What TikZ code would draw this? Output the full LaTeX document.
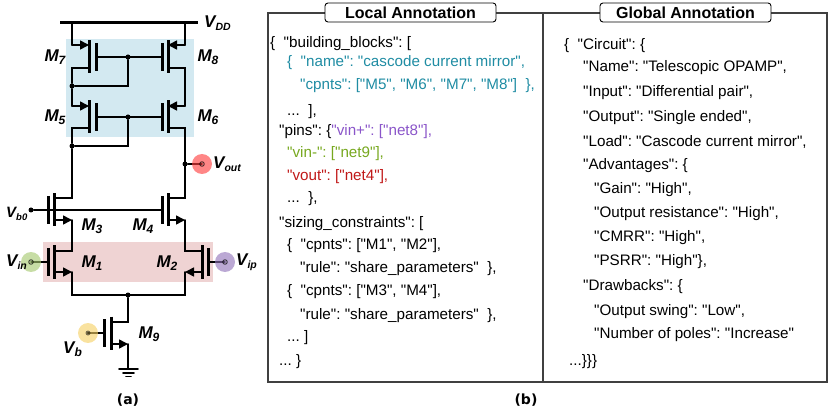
\documentclass[tikz,border=0pt]{standalone}
\usepackage{fontspec}
\setmainfont{Liberation Sans}
\newfontfamily\dejavu{DejaVu Sans}
\font\codefont="Liberation Sans" at 15.2pt
\usetikzlibrary{arrows.meta}
\definecolor{tealtxt}{HTML}{1F8CA3}
\definecolor{purptxt}{HTML}{8A55C9}
\definecolor{greentxt}{HTML}{77A81F}
\definecolor{redtxt}{HTML}{C01818}
\definecolor{framegray}{HTML}{404040}
\tikzset{
  wire/.style={line width=1.6pt,black,line cap=round,line join=miter},
  tipwire/.style={wire,-{Triangle[length=9pt,width=9pt]}},
  mosbar/.style={line width=3pt,black},
  junction/.style={circle,fill=black,inner sep=0pt,minimum size=5pt},
  pinring/.style={circle,draw=black,line width=.9pt,fill=none,inner sep=0pt,minimum size=4.5pt,opacity=.7},
  pindot/.style={circle,fill=black,inner sep=0pt,minimum size=5pt,opacity=.5},
  halo/.style={circle,inner sep=0pt,minimum size=20pt,opacity=.62},
  devlabel/.style={font=\fontsize{17}{18}\selectfont\bfseries\itshape,inner sep=0pt},
  capt/.style={font=\dejavu\fontsize{14}{16}\selectfont\bfseries,inner sep=0pt},
  code/.style={anchor=west,inner sep=0pt,font=\codefont\frenchspacing},
  titlebox/.style={draw=black,line width=.9pt,rounded corners=3pt,fill=white,inner sep=0pt,minimum height=19pt,font=\fontsize{16}{17}\selectfont\bfseries},
  frame/.style={draw=framegray,line width=1.1pt}
}
% name, gate x, channel x, rail x, upper terminal y, lower terminal y, gate y
\newcommand\mosdev[7]{%
  \coordinate (#1-g) at (#2,#7);
  \coordinate (#1-ct) at (#3,#5);
  \coordinate (#1-cb) at (#3,#6);
  \coordinate (#1-rt) at (#4,#5);
  \coordinate (#1-rb) at (#4,#6);
  \draw[mosbar] (#2,#7-14) -- (#2,#7+14);
  \draw[mosbar] (#3,#7-16.5) -- (#3,#7+16.5);
}
\newcommand\subl[2]{#1\raisebox{-3pt}{\fontsize{12}{13}\selectfont #2}}
\newcommand\subv[2]{#1\raisebox{-3pt}{\fontsize{10.5}{12}\selectfont #2}}
\begin{document}
\begin{tikzpicture}[x=1pt,y=-1pt]
\useasboundingbox (0,0) rectangle (830,414);
% highlighted regions
\fill[fill={rgb,255:red,211;green,233;blue,241}] (66,39) rectangle (194,137);
\fill[fill={rgb,255:red,239;green,211;blue,211}] (43,242) rectangle (213,282);
% devices
\mosdev{M7}{96}{89}{72}{45}{68}{57}
\mosdev{M8}{162}{168}{185}{45}{68}{57}
\mosdev{M5}{96}{89}{72}{106}{128}{117}
\mosdev{M6}{162}{168}{185}{106}{128}{117}
\mosdev{M3}{48}{54}{72}{198}{220}{210}
\mosdev{M4}{162}{168}{185}{198}{220}{210}
\mosdev{M1}{48}{54}{72}{251}{272}{262}
\mosdev{M2}{208}{202}{185}{251}{272}{262}
\mosdev{M9}{104}{111}{128}{322}{344}{333}
% junctions and free ends
\node[junction] (jleft) at (72,86) {};
\node[junction] (jgtop) at (128,57) {};
\node[junction] (jleftb) at (72,146) {};
\node[junction] (jgbot) at (128,117) {};
\node[junction] (jout) at (185,164) {};
\node[junction] (jtail) at (128,295) {};
\node[junction] (vbz) at (31,210) {};
\coordinate (vddl) at (60,23);
\coordinate (vddr) at (198,23);
\coordinate (vdd7) at (72,23);
\coordinate (vdd8) at (185,23);
\coordinate (tl) at (72,295);
\coordinate (tr) at (185,295);
\coordinate (cj1) at (128,86);
\coordinate (cj2) at (128,146);
\coordinate (gnd) at (128,369);
% pins
\coordinate (pout) at (202,164);
\coordinate (pin) at (31,262);
\coordinate (pip) at (225,262);
\coordinate (pb) at (88,333);
% wiring
\draw[line width=3pt] (vddl) -- (vddr);
\draw[wire] (vdd7) -- (M7-rt);
\draw[wire] (vdd8) -- (M8-rt);
\draw[tipwire] (M7-rt) -- (M7-ct);
\draw[tipwire] (M8-rt) -- (M8-ct);
\draw[wire] (M7-g) -- (M8-g);
\draw[wire] (M7-cb) -- (M7-rb) -- (jleft);
\draw[wire] (M8-cb) -- (M8-rb) -- (M6-rt);
\draw[wire] (jleft) -- (cj1) -- (jgtop);
\draw[wire] (jleft) -- (M5-rt);
\draw[tipwire] (M5-rt) -- (M5-ct);
\draw[tipwire] (M6-rt) -- (M6-ct);
\draw[wire] (M5-g) -- (M6-g);
\draw[wire] (M5-cb) -- (M5-rb) -- (jleftb);
\draw[wire] (jleftb) -- (cj2) -- (jgbot);
\draw[wire] (jleftb) -- (M3-rt) -- (M3-ct);
\draw[wire] (M6-cb) -- (M6-rb) -- (M4-rt) -- (M4-ct);
\draw[wire] (jout) -- (pout);
\draw[wire] (vbz) -- (M4-g);
\draw[tipwire] (M3-cb) -- (M3-rb);
\draw[tipwire] (M4-cb) -- (M4-rb);
\draw[wire] (M3-rb) -- (M1-rt) -- (M1-ct);
\draw[wire] (M4-rb) -- (M2-rt) -- (M2-ct);
\draw[tipwire] (M1-cb) -- (M1-rb);
\draw[tipwire] (M2-cb) -- (M2-rb);
\draw[wire] (M1-rb) -- (tl) -- (tr) -- (M2-rb);
\draw[wire] (pin) -- (M1-g);
\draw[wire] (M2-g) -- (pip);
\draw[wire] (jtail) -- (M9-rt) -- (M9-ct);
\draw[tipwire] (M9-cb) -- (M9-rb);
\draw[wire] (M9-rb) -- (gnd);
\draw[wire] (pb) -- (M9-g);
\draw[wire] (119,369) -- (138,369);
\draw[wire] (123,373) -- (134,373);
\draw[wire] (126,376.5) -- (131,376.5);
% halos
\node[halo,fill={rgb,255:red,255;green,60;blue,60}] (hout) at (pout) {};
\node[halo,fill={rgb,255:red,165;green,200;blue,110}] (hin) at (pin) {};
\node[halo,fill={rgb,255:red,145;green,115;blue,185}] (hip) at (pip) {};
\node[halo,fill={rgb,255:red,246;green,209;blue,100}] (hb) at (pb) {};
\node[pinring] (rout) at (pout) {};
\node[pinring] (rin) at (pin) {};
\node[pinring] (rip) at (pip) {};
\node[pindot] (rb) at (pb) {};
% device labels
\node[devlabel] (l7) at (55,57) {\subl{M}{7}};
\node[devlabel] (l8) at (208,57) {\subl{M}{8}};
\node[devlabel] (l5) at (55,117) {\subl{M}{5}};
\node[devlabel] (l6) at (208,117) {\subl{M}{6}};
\node[devlabel] (l3) at (92,226) {\subl{M}{3}};
\node[devlabel] (l4) at (143,226) {\subl{M}{4}};
\node[devlabel] (l1) at (92,263) {\subl{M}{1}};
\node[devlabel] (l2) at (167,263) {\subl{M}{2}};
\node[devlabel] (l9) at (149,334) {\subl{M}{9}};
\node[devlabel,anchor=west] (lvdd) at (204,23) {\subv{V}{DD}};
\node[devlabel,anchor=west] (lvout) at (213,164) {\subv{V}{out}};
\node[devlabel,anchor=west,font=\fontsize{15}{16}\selectfont\bfseries\itshape] (lvb0) at (6,214) {V\raisebox{-3pt}{\fontsize{9.5}{11}\selectfont b0}};
\node[devlabel,anchor=west] (lvin) at (6,262) {\subv{V}{in}};
\node[devlabel,anchor=west] (lvip) at (236,262) {\subv{V}{ip}};
\node[devlabel,anchor=west] (lvb) at (63,349) {\subl{V}{b}};
\node[capt] (capa) at (128,400) {(a)};
\node[capt] (capb) at (526,400) {(b)};
% panels
\draw[frame] (268,382) -- (268,13) -- (827,13) -- (827,382) -- cycle;
\draw[frame] (543,13) -- (543,382);
\node[titlebox,minimum width=171pt] (tlocal) at (410.5,12.5) {Local Annotation};
\node[titlebox,minimum width=171pt] (tglobal) at (685.5,12.5) {Global Annotation};
% local annotation
\node[code] (a1) at (270,44) {\{\ \ "building\_blocks": [};
\node[code,text=tealtxt] (a2) at (287,63) {\{\ \ "name": "cascode current mirror",};
\node[code,text=tealtxt] (a3) at (300,86) {"cpnts": ["M5", "M6", "M7", "M8"]\ \ \},};
\node[code] (a4) at (287,112) {...\ \ ],};
\node[code] (a5) at (279,132) {"pins": \{\textcolor{purptxt}{"vin+": ["net8"],}};
\node[code,text=greentxt] (a6) at (287,154) {"vin-": ["net9"],};
\node[code,text=redtxt] (a7) at (287,177) {"vout": ["net4"],};
\node[code] (a8) at (287,199) {...\ \ \},};
\node[code] (a9) at (279,224) {"sizing\_constraints": [};
\node[code] (a10) at (287,246) {\{\ \ "cpnts": ["M1", "M2"],};
\node[code] (a11) at (300,269) {"rule": "share\_parameters"\ \ \},};
\node[code] (a12) at (287,292) {\{\ \ "cpnts": ["M3", "M4"],};
\node[code] (a13) at (300,316) {"rule": "share\_parameters"\ \ \},};
\node[code] (a14) at (287,338) {... ]};
\node[code] (a15) at (279,362) {... \}};
% global annotation
\node[code] (b1) at (564,46) {\{\ \ "Circuit": \{};
\node[code] (b2) at (583,68) {"Name": "Telescopic OPAMP",};
\node[code] (b3) at (583,93) {"Input": "Differential pair",};
\node[code] (b4) at (583,118) {"Output": "Single ended",};
\node[code] (b5) at (583,142) {"Load": "Cascode current mirror",};
\node[code] (b6) at (583,166) {"Advantages": \{};
\node[code] (b7) at (594,190) {"Gain": "High",};
\node[code] (b8) at (594,214) {"Output resistance": "High",};
\node[code] (b9) at (594,238) {"CMRR": "High",};
\node[code] (b10) at (594,262) {"PSRR": "High"\},};
\node[code] (b11) at (583,287) {"Drawbacks": \{};
\node[code] (b12) at (594,312) {"Output swing": "Low",};
\node[code] (b13) at (594,335) {"Number of poles": "Increase"};
\node[code] (b14) at (569,362) {...\}\}\}};
\end{tikzpicture}
\end{document}
